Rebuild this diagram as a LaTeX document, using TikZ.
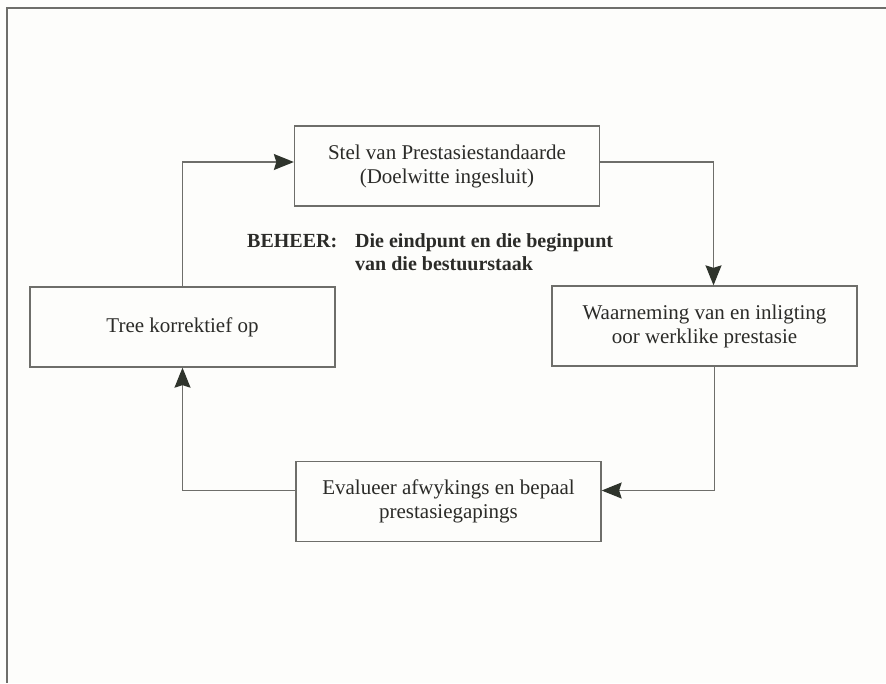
\documentclass[tikz,border=0pt]{standalone}
\usepackage{fontspec}
\setmainfont{Liberation Serif}
\usepackage{tikz}
\usepackage{xcolor}
\usetikzlibrary{arrows.meta,positioning,calc}
\definecolor{paper}{HTML}{FDFDFB}
\definecolor{ink}{HTML}{2B2B28}
\definecolor{inkgray}{HTML}{6E6E6A}
\definecolor{tipgray}{HTML}{2F342C}

\begin{document}
\begin{tikzpicture}[x=1pt,y=-1pt,
    box/.style={draw=inkgray,line width=1.3pt,minimum width=305pt,minimum height=80pt,
      align=center,text=ink,inner sep=2pt,font=\fontsize{21}{24}\selectfont},
    flow/.style={draw=inkgray,line width=1.3pt,
      -{Stealth[length=20pt,width=16pt,inset=2.5pt,color=tipgray]}}]
      \useasboundingbox[fill=paper] (0,0) rectangle (886,683);
      \draw[inkgray,line width=1.3pt] (886,8) -- (7,8) -- (7,683);
      % the four steps of the loop
      \node[box] (stel) at (447,166) {Stel van Prestasiestandaarde\\(Doelwitte ingesluit)};
      \node[box] (waarneem) at (704.5,326) {Waarneming van en inligting\\oor werklike prestasie};
      \node[box] (evalueer) at (448.5,501.5) {Evalueer afwykings en bepaal\\prestasiegapings};
      \node[box] (tree) at (182.5,327) {Tree korrektief op};
      \node[anchor=west,text=ink,inner sep=0pt,font=\fontsize{20}{23}\selectfont\bfseries] (beheer) at (247,254)
        {\begin{tabular}{@{}l@{\hspace{18pt}}l@{}}BEHEER: & Die eindpunt en die beginpunt\\ & van die bestuurstaak\end{tabular}};
      % connectors
      \draw[flow] ([yshift=4pt]stel.east) -| ([xshift=9pt]waarneem.north);
      \draw[flow] ([xshift=10pt]waarneem.south) |- ([yshift=11pt]evalueer.east);
      \draw[flow] ([yshift=11pt]evalueer.west) -| (tree.south);
      \draw[flow] (tree.north) |- ([yshift=4pt]stel.west);
    \end{tikzpicture}
\end{document}
